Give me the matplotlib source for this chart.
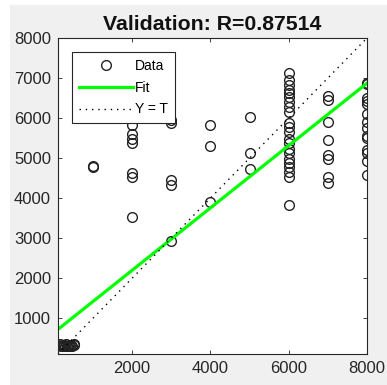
import numpy as np
import matplotlib.pyplot as plt
from matplotlib.patches import Rectangle

plt.rcParams['font.family'] = ['Liberation Sans', 'DejaVu Sans']

# targets (T) and network outputs (Y)
targets = ([120, 150, 180, 210, 230, 260, 280, 310, 330, 360, 380, 420, 430, 480, 510, 530]
           + [1000, 1000, 1000]
           + [2000] * 7
           + [3000] * 5
           + [4000] * 3
           + [5000] * 3
           + [6000] * 22
           + [7000] * 8
           + [8000] * 14)
outputs = ([330, 350, 310, 300, 340, 330, 320, 350, 300, 320, 340, 300, 330, 310, 350, 340]
           + [6020, 4780, 4800]
           + [5830, 5600, 5480, 5380, 4620, 4520, 3520]
           + [5950, 5880, 4450, 4330, 2920]
           + [5820, 5300, 3900]
           + [6020, 5120, 4740]
           + [7120, 6950, 6820, 6700, 6620, 6530, 6410, 6280, 6160, 5870, 5780,
              5660, 5490, 5370, 5240, 5120, 4990, 4870, 4780, 4660, 4530, 3840]
           + [6550, 6450, 5900, 5450, 5080, 4980, 4530, 4380]
           + [6880, 6850, 6500, 6420, 6350, 6100, 5900, 5750, 5550, 5500,
              5200, 5120, 4920, 4570])
fit_slope = 0.779
fit_offset = 640
r_value = 0.87514
lim = [110, 8000]
xticks = [2000, 4000, 6000, 8000]
yticks = [1000, 2000, 3000, 4000, 5000, 6000, 7000, 8000]

fig = plt.figure(figsize=(3.87, 3.85), dpi=100, facecolor='#f0f0f0')
# white strips left and top (screenshot crop)
fig.add_artist(Rectangle((0, 0), 10 / 387, 1, transform=fig.transFigure,
                         facecolor='white', edgecolor='none'))
fig.add_artist(Rectangle((0, 1 - 5 / 385), 1, 5 / 385, transform=fig.transFigure,
                         facecolor='white', edgecolor='none'))
ax = fig.add_axes([58 / 387, 1 - 354 / 385, 309 / 387, 316 / 385])

t = np.array(targets)
y = np.array(outputs)
ax.plot(t, y, 'o', color='#222222', markerfacecolor='none', markersize=7,
        markeredgewidth=1.0, label='Data')
xs = np.array(lim)
ax.plot(xs, fit_slope * xs + fit_offset, color=(0, 1, 0), linewidth=2.3, label='Fit')
ax.plot(xs, xs, color='black', linestyle=(0, (1, 3.5)), linewidth=1.0, label='Y = T')

ax.set_xlim(lim)
ax.set_ylim(lim)
ax.set_xticks(xticks)
ax.set_yticks(yticks)
ax.tick_params(direction='in', top=True, right=True, labelsize=12,
               colors='#262626', length=3, width=0.6, pad=5)
for s in ax.spines.values():
    s.set_color('#262626')
    s.set_linewidth(0.8)
ax.set_title('Validation: R=%.5f' % r_value, fontsize=15.3, fontweight='bold',
             color='#111111', pad=6)

leg = ax.legend(loc='upper left', bbox_to_anchor=(0.045, 0.955), fontsize=10,
                fancybox=False, edgecolor='#262626', framealpha=1,
                handlelength=3.9, borderpad=0.5, labelspacing=0.55,
                handletextpad=0.15, borderaxespad=0)
leg.get_frame().set_linewidth(0.8)

fig.savefig('out.png', dpi=100, facecolor=fig.get_facecolor())
